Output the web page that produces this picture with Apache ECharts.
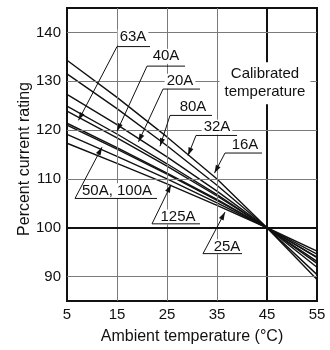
<!DOCTYPE html>
<html><head><meta charset="utf-8">
<script src="https://cdn.jsdelivr.net/npm/echarts@6/dist/echarts.min.js"></script>
<style>html,body{margin:0;padding:0;background:#fff}#c{width:330px;height:350px}</style>
</head><body><div id="c"></div>
<script>
// Ambient temperature (°C) sample points
const temps = [5, 15, 25, 35, 45, 55];
// Percent current rating curves
const curve1 = [134.3, 126.7, 118.6, 110.0, 100, 89.4];
const curve2 = [131.5, 124.4, 116.8, 108.7, 100, 90.4];
const curve3 = [127.3, 121.1, 114.5, 107.5, 100, 91.9];
const curve4 = [124.9, 119.2, 113.1, 106.8, 100, 92.7];
const curve5 = [123.9, 118.4, 112.6, 106.5, 100, 93.1];
const curve6 = [121.4, 116.4, 111.2, 105.8, 100, 93.9];
const curve7 = [121.0, 116.1, 111.0, 105.6, 100, 94.0];
const curve8 = [119.1, 114.6, 110.0, 105.1, 100, 94.6];
const curve9 = [117.3, 113.2, 109.0, 104.6, 100, 95.2];
const xTicks = [5, 15, 25, 35, 45, 55];
const yTicks = [90, 100, 110, 120, 130, 140];
const calibratedTemp = 45;
const calibratedRating = 100;
// Callout labels (data coordinates)
const labelNames = ['63A', '40A', '20A', '80A', '32A', '16A', '50A, 100A', '125A', '25A'];
const labelText = [[18.2,139.1],[24.8,135.1],[27.6,130.0],[30.2,124.8],[35.0,120.6],[40.6,116.9],[15.0,107.6],[27.2,102.2],[37.0,96.1]];
const labelLine = [[15.0,21.6,137.1],[21.0,28.6,133.1],[24.2,31.6,128.4],[25.6,34.0,123.0],[30.8,39.0,118.9],[36.6,44.0,115.3],[6.6,23.0,106.0],[22.0,31.6,100.8],[32.2,40.0,94.7]];
const labelTip = [[7.3,122.0],[15.0,119.75],[19.3,117.6],[23.6,116.7],[29.2,114.8],[34.5,111.2],[12.0,116.5],[25.8,108.8],[36.6,103.2]];
const calibratedText = 'Calibrated\ntemperature';
const calibratedPos = [44.6, 129.6];

const FONT = '"Liberation Sans", Arial, Helvetica, sans-serif';
const curves = [curve1, curve2, curve3, curve4, curve5, curve6, curve7, curve8, curve9];

const gridMarks = [];
xTicks.slice(1, -1).forEach(v => {
  const thick = v === calibratedTemp;
  gridMarks.push({xAxis: v, lineStyle: {color: thick ? '#111' : '#7a7a7a', width: thick ? 2 : 1, type: 'solid'}});
});
yTicks.forEach(v => {
  const thick = v === calibratedRating;
  gridMarks.push({yAxis: v, lineStyle: {color: thick ? '#111' : '#7a7a7a', width: thick ? 2 : 1, type: 'solid'}});
});

const series = [{
  type: 'line', data: [], silent: true, z: 1,
  markLine: {silent: true, symbol: 'none', label: {show: false}, animation: false, data: gridMarks}
}];
curves.forEach(c => {
  series.push({
    type: 'line', data: temps.map((t, j) => [t, c[j]]), symbol: 'none', silent: true, z: 3,
    lineStyle: {color: '#111', width: 1.4}
  });
});

const chart = echarts.init(document.getElementById('c'), null, {renderer: 'canvas'});
chart.setOption({
  animation: false,
  backgroundColor: '#fff',
  grid: {left: 67, right: 13, top: 8, bottom: 45, show: true, borderColor: '#111', borderWidth: 2, backgroundColor: 'transparent'},
  xAxis: {
    type: 'value', min: 5, max: 55, interval: 5,
    name: 'Ambient temperature (°C)', nameLocation: 'middle', nameGap: 28, nameMoveOverlap: false,
    nameTextStyle: {fontSize: 16, color: '#111', fontFamily: FONT},
    axisLine: {show: false}, axisTick: {show: false}, splitLine: {show: false},
    axisLabel: {margin: 6, fontSize: 15, color: '#111', fontFamily: FONT,
      formatter: v => xTicks.includes(v) ? String(v) : ''}
  },
  yAxis: {
    type: 'value', min: 85, max: 145, interval: 5,
    name: 'Percent current rating', nameLocation: 'middle', nameGap: 34, nameMoveOverlap: false,
    nameTextStyle: {fontSize: 16, color: '#111', fontFamily: FONT, padding: [0, 9, 0, 0]},
    axisLine: {show: false}, axisTick: {show: false}, splitLine: {show: false},
    axisLabel: {margin: 6, fontSize: 15, color: '#111', fontFamily: FONT,
      formatter: v => yTicks.includes(v) ? String(v) : ''}
  },
  series: series
});

function px(p) { return chart.convertToPixel({gridIndex: 0}, p); }
const g = [];
labelNames.forEach((name, i) => {
  const a = px([labelLine[i][0], labelLine[i][2]]);
  const b = px([labelLine[i][1], labelLine[i][2]]);
  const tip = px(labelTip[i]);
  g.push({type: 'polyline', silent: true, z: 20, shape: {points: [tip, a, b]}, style: {stroke: '#111', lineWidth: 1, fill: null}});
  const dx = tip[0] - a[0], dy = tip[1] - a[1];
  const L = Math.hypot(dx, dy), ux = dx / L, uy = dy / L;
  const len = 8, hw = 2.6;
  const base = [tip[0] - ux * len, tip[1] - uy * len];
  g.push({type: 'polygon', silent: true, z: 21, shape: {points: [tip, [base[0] - uy * hw, base[1] + ux * hw], [base[0] + uy * hw, base[1] - ux * hw]]}, style: {fill: '#111'}});
  const t = px(labelText[i]);
  g.push({type: 'text', silent: true, z: 19, x: t[0], y: t[1], style: {
    text: name, fill: '#111', font: '15px ' + FONT, fontSize: 15, fontFamily: FONT,
    align: 'center', verticalAlign: 'middle', textAlign: 'center', textVerticalAlign: 'middle',
    backgroundColor: '#fff', padding: [0, 2]}});
});
const cp = px(calibratedPos);
g.push({type: 'text', silent: true, z: 18, x: cp[0], y: cp[1], style: {
  text: calibratedText, fill: '#111', font: '15px ' + FONT, fontSize: 15, fontFamily: FONT, lineHeight: 18,
  align: 'center', verticalAlign: 'middle', textAlign: 'center', textVerticalAlign: 'middle',
  backgroundColor: '#fff', padding: [3, 5]}});
chart.setOption({graphic: g});
</script>
</body></html>
